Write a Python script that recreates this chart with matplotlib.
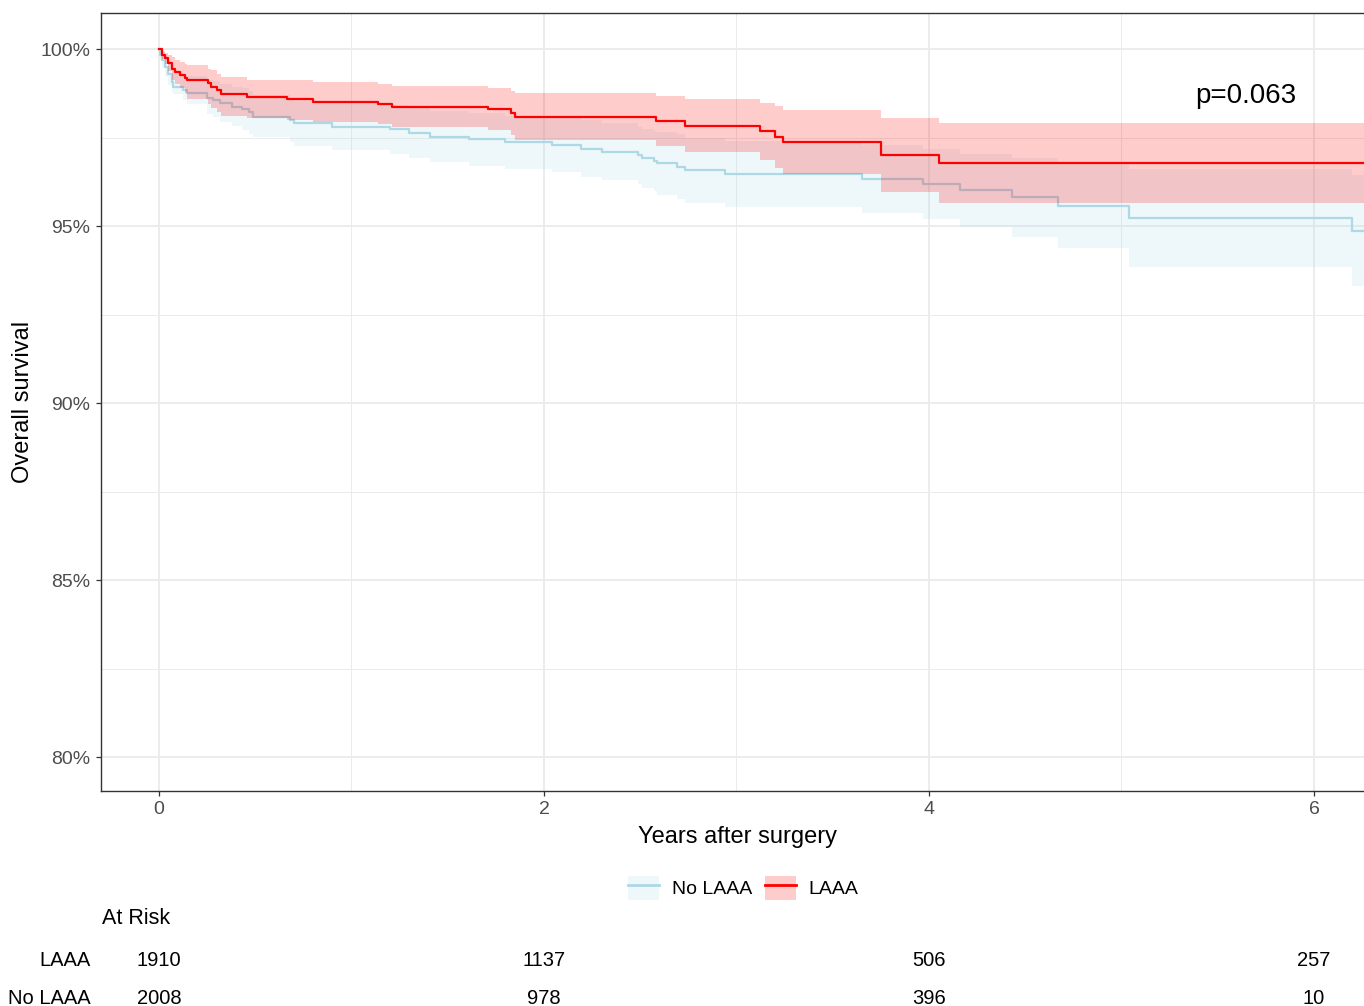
import numpy as np
import matplotlib
matplotlib.use("Agg")
import matplotlib.pyplot as plt
from matplotlib.patches import Patch
from matplotlib.lines import Line2D
from matplotlib import transforms
from matplotlib.ticker import FixedLocator, FuncFormatter

plt.rcParams['font.family'] = ['Liberation Sans', 'DejaVu Sans']

# ---------------- data ----------------
groups = ["No LAAA", "LAAA"]

# No LAAA: step times (years), survival (%), 95% CI
t_no = [0, 0.005, 0.014, 0.03, 0.048, 0.066, 0.074, 0.126, 0.144,
        0.25, 0.28, 0.317, 0.38, 0.43, 0.47, 0.49,
        0.68, 0.70, 0.90,
        1.20, 1.30, 1.41, 1.61, 1.80,
        2.04, 2.19, 2.30, 2.49, 2.51, 2.57, 2.585, 2.69, 2.73, 2.94,
        3.65, 3.97, 4.16, 4.43, 4.67, 5.04, 6.20]
s_no = [100, 99.83, 99.69, 99.5, 99.31, 99.08, 98.94, 98.84, 98.75,
        98.61, 98.56, 98.47, 98.37, 98.32, 98.23, 98.09,
        97.99, 97.9, 97.81,
        97.74, 97.62, 97.52, 97.45, 97.37,
        97.29, 97.19, 97.1, 97.0, 96.91, 96.85, 96.77, 96.68, 96.58, 96.47,
        96.33, 96.19, 96.01, 95.81, 95.57, 95.23, 94.87]
hi_no = [100, 99.98, 99.91, 99.8, 99.67, 99.5, 99.39, 99.31, 99.23,
         99.13, 99.09, 99.01, 98.93, 98.89, 98.81, 98.69,
         98.61, 98.54, 98.47,
         98.43, 98.33, 98.24, 98.19, 98.12,
         98.05, 97.99, 97.9, 97.81, 97.73, 97.7, 97.65, 97.59, 97.5, 97.41,
         97.3, 97.19, 97.05, 96.92, 96.75, 96.61, 96.43]
lo_no = [100, 99.68, 99.47, 99.2, 98.98, 98.8, 98.72, 98.55, 98.45,
         98.18, 98.08, 97.95, 97.82, 97.72, 97.6, 97.52,
         97.37, 97.26, 97.15,
         97.05, 96.91, 96.8, 96.71, 96.62,
         96.53, 96.39, 96.3, 96.19, 96.09, 96.0, 95.89, 95.77, 95.66, 95.53,
         95.36, 95.19, 94.97, 94.7, 94.39, 93.85, 93.31]

# LAAA
t_la = [0, 0.014, 0.031, 0.048, 0.066, 0.083, 0.109, 0.135, 0.144,
        0.255, 0.27, 0.30, 0.32,
        0.455, 0.663, 0.80,
        1.14, 1.21,
        1.71, 1.83, 1.85,
        2.58, 2.73,
        3.12, 3.20, 3.24,
        3.75, 4.05]
s_la = [100, 99.83, 99.74, 99.6, 99.45, 99.36, 99.27, 99.17, 99.12,
        99.03, 98.94, 98.84, 98.72,
        98.65, 98.58, 98.51,
        98.45, 98.37,
        98.3, 98.2, 98.09,
        97.97, 97.84,
        97.68, 97.52, 97.37,
        97.0, 96.77]
hi_la = [100, 99.95, 99.9, 99.83, 99.77, 99.7, 99.64, 99.58, 99.55,
         99.45, 99.4, 99.31, 99.2,
         99.14, 99.12, 99.07,
         99.01, 98.95,
         98.89, 98.82, 98.75,
         98.67, 98.59,
         98.48, 98.39, 98.28,
         98.04, 97.9]
lo_la = [100, 99.71, 99.58, 99.37, 99.13, 99.02, 98.9, 98.76, 98.6,
         98.45, 98.35, 98.22, 98.12,
         98.06, 98.0, 97.93,
         97.89, 97.79,
         97.71, 97.58, 97.43,
         97.27, 97.09,
         96.88, 96.65, 96.46,
         95.96, 95.64]

follow_up_end = 6.45

risk_times = [0, 2, 4, 6]
risk_la = [1910, 1137, 506, 257]
risk_no = [2008, 978, 396, 10]

p_label = "p=0.063"
y_ticks = [80, 85, 90, 95, 100]
y_minor = [82.5, 87.5, 92.5, 97.5]
x_ticks = [0, 2, 4, 6]
x_minor = [1, 3, 5]

col_no = "#ADD8E6"
col_la = "#FF0000"

# ---------------- figure ----------------
W, H = 1364, 1006
fig = plt.figure(figsize=(W / 100, H / 100), dpi=100)
px = lambda x: x / W
py = lambda y: 1 - y / H

ax_left, ax_right, ax_top, ax_bot = 101, 1373, 13, 791
ax = fig.add_axes([px(ax_left), py(ax_bot), (ax_right - ax_left) / W, (ax_bot - ax_top) / H])
ax.set_xlim(-0.3013, 6.3065)
ax.set_ylim(79.04, 101.02)


def ext(t, v):
    return np.append(np.asarray(t, float), follow_up_end), np.append(np.asarray(v, float), v[-1])


# No LAAA
tt, lo = ext(t_no, lo_no)
_, hi = ext(t_no, hi_no)
_, ss = ext(t_no, s_no)
ax.fill_between(tt, lo, hi, step='post', color=col_no, alpha=0.2, lw=0, zorder=2)
ax.step(tt, ss, where='post', color=col_no, lw=1.6, zorder=3)

# LAAA
tt, lo = ext(t_la, lo_la)
_, hi = ext(t_la, hi_la)
_, ss = ext(t_la, s_la)
ax.fill_between(tt, lo, hi, step='post', color=col_la, alpha=0.2, lw=0, zorder=4)
ax.step(tt, ss, where='post', color=col_la, lw=1.6, zorder=5)

# grid / axes style
ax.xaxis.set_major_locator(FixedLocator(x_ticks))
ax.xaxis.set_minor_locator(FixedLocator(x_minor))
ax.yaxis.set_major_locator(FixedLocator(y_ticks))
ax.yaxis.set_minor_locator(FixedLocator(y_minor))
ax.yaxis.set_major_formatter(FuncFormatter(lambda v, p: f"{v:.0f}%"))
ax.xaxis.set_major_formatter(FuncFormatter(lambda v, p: f"{v:.0f}"))
ax.grid(which='major', color='#EBEBEB', lw=1.3, zorder=0)
ax.grid(which='minor', color='#EBEBEB', lw=0.7, zorder=0)
ax.set_axisbelow(True)
ax.tick_params(which='major', length=3.5, width=0.9, color='#333333',
               labelcolor='#4D4D4D', labelsize=14, pad=4)
ax.tick_params(which='minor', length=0)
for sp in ax.spines.values():
    sp.set_color('#333333')
    sp.set_linewidth(1.0)

ax.text(5.644, 98.68, p_label, ha='center', va='center', fontsize=20, color='black')

# axis titles
fig.text(px(23), py(402), "Overall survival", rotation=90, ha='center', va='center',
         fontsize=17, color='black')
fig.text(px(737), py(837), "Years after surgery", ha='center', va='center',
         fontsize=17, color='black')

# legend
handles = [(Patch(facecolor=col_no, alpha=0.2, edgecolor='none'), Line2D([], [], color=col_no, lw=2)),
           (Patch(facecolor=col_la, alpha=0.2, edgecolor='none'), Line2D([], [], color=col_la, lw=2))]
fig.legend(handles, groups, loc='center', bbox_to_anchor=(px(743), py(888)), ncol=2,
           frameon=False, fontsize=14, handlelength=1.6, handleheight=1.55,
           handletextpad=0.65, columnspacing=0.65, borderpad=0, borderaxespad=0)

# risk table
fig.text(px(102), py(919), "At Risk", ha='left', va='center', fontsize=15.5, color='black')
trans = transforms.blended_transform_factory(ax.transData, fig.transFigure)
for label, vals, y in [("LAAA", risk_la, 961), ("No LAAA", risk_no, 999)]:
    fig.text(px(91), py(y), label, ha='right', va='center', fontsize=14.5, color='black')
    for t, v in zip(risk_times, vals):
        ax.text(t, py(y), str(v), transform=trans, ha='center', va='center',
                fontsize=14.5, color='black', clip_on=False)

fig.savefig("out.png", dpi=100)
